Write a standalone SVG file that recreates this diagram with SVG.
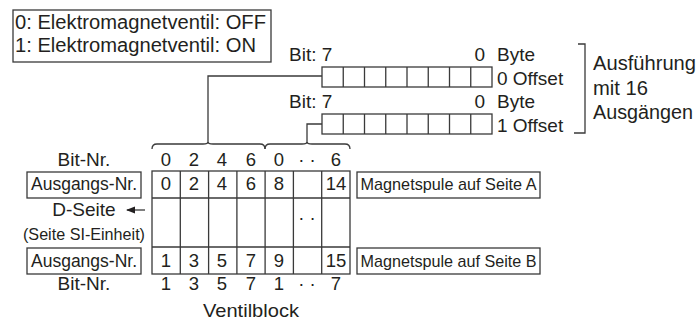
<svg xmlns="http://www.w3.org/2000/svg" width="699" height="323" viewBox="0 0 699 323">
<style>
text{font-family:"Liberation Sans",Arial,sans-serif;fill:#231f20}
.t20{font-size:20px}
.t19{font-size:19px}
.t18{font-size:18.5px}
.t17{font-size:17.5px}
.t16{font-size:16.4px}
.m{text-anchor:middle}
.e{text-anchor:end}
.ln{fill:none;stroke:#3a3a3a;stroke-width:1.3}
.bx{fill:#fff;stroke:#3a3a3a;stroke-width:1.3}
</style>
<defs>
<marker id="ah" markerWidth="9" markerHeight="8" refX="8" refY="4" orient="auto" markerUnits="userSpaceOnUse">
<path d="M9,4 L0,0.5 L0,7.5 Z" fill="#231f20"/>
</marker>
</defs>

<g id="legend">
<rect class="bx" x="13" y="10" width="258" height="52"/>
<text class="t20" x="15" y="29" textLength="251" lengthAdjust="spacingAndGlyphs">0: Elektromagnetventil: OFF</text>
<text class="t20" x="15" y="52" textLength="241" lengthAdjust="spacingAndGlyphs">1: Elektromagnetventil: ON</text>
</g>

<g id="byte0">
<text class="t19" x="289" y="61">Bit: 7</text>
<text class="t19 e" x="485" y="61">0</text>
<text class="t19" x="497" y="61">Byte</text>
<rect class="bx" x="322" y="67" width="170" height="20"/>
<path class="ln" d="M343.25,67V87M364.5,67V87M385.75,67V87M407,67V87M428.25,67V87M449.5,67V87M470.75,67V87"/>
<text class="t19" x="497" y="85">0 Offset</text>
</g>

<g id="byte1">
<text class="t19" x="289" y="108">Bit: 7</text>
<text class="t19 e" x="485" y="108">0</text>
<text class="t19" x="497" y="108">Byte</text>
<rect class="bx" x="322" y="114" width="170" height="20"/>
<path class="ln" d="M343.25,114V134M364.5,114V134M385.75,114V134M407,114V134M428.25,114V134M449.5,114V134M470.75,114V134"/>
<text class="t19" x="497" y="132">1 Offset</text>
</g>

<g id="variant">
<path class="ln" d="M578,44H585V133H574"/>
<text class="t20" x="593" y="70" textLength="103" lengthAdjust="spacingAndGlyphs">Ausführung</text>
<text class="t20" x="593" y="95" textLength="55" lengthAdjust="spacingAndGlyphs">mit 16</text>
<text class="t20" x="593" y="119" textLength="100" lengthAdjust="spacingAndGlyphs">Ausgängen</text>
</g>

<g id="connectors">
<path class="ln" d="M322,76H208V143"/>
<path class="ln" d="M322,124H307V143"/>
<path class="ln" d="M152,149q0,-5 5,-5H203q5,0 5,-2q0,2 5,2H260q5,0 5,5"/>
<path class="ln" d="M265,149q0,-5 5,-5H302q5,0 5,-2q0,2 5,2H345q5,0 5,5"/>
<path class="ln" d="M145,210H127" marker-end="url(#ah)"/>
</g>

<g id="bitnr-top">
<text class="t19 m" x="84" y="166">Bit-Nr.</text>
<text class="t18 m" x="166" y="166">0</text>
<text class="t18 m" x="194" y="166">2</text>
<text class="t18 m" x="222" y="166">4</text>
<text class="t18 m" x="251" y="166">6</text>
<text class="t18 m" x="279" y="166">0</text>
<text class="t18 m" x="307" y="166">· ·</text>
<text class="t18 m" x="336" y="166">6</text>
</g>

<g id="ventilblock">
<rect class="bx" x="152" y="171" width="198" height="103"/>
<path class="ln" d="M152,198H350M152,247H350M180.3,171V274M208.6,171V274M236.9,171V274M265.1,171V274M293.4,171V274M321.7,171V274"/>
<text class="t18 m" x="166" y="190">0</text>
<text class="t18 m" x="194" y="190">2</text>
<text class="t18 m" x="222" y="190">4</text>
<text class="t18 m" x="251" y="190">6</text>
<text class="t18 m" x="279" y="190">8</text>
<text class="t18 m" x="336" y="190">14</text>
<text class="t18 m" x="307" y="224">· ·</text>
<text class="t18 m" x="166" y="267">1</text>
<text class="t18 m" x="194" y="267">3</text>
<text class="t18 m" x="222" y="267">5</text>
<text class="t18 m" x="251" y="267">7</text>
<text class="t18 m" x="279" y="267">9</text>
<text class="t18 m" x="336" y="267">15</text>
<text class="t19 m" x="251" y="317" textLength="96" lengthAdjust="spacingAndGlyphs">Ventilblock</text>
</g>

<g id="ausgang-a">
<rect class="bx" x="27" y="172" width="114" height="26"/>
<text class="t17 m" x="84" y="190" textLength="106" lengthAdjust="spacingAndGlyphs">Ausgangs-Nr.</text>
</g>

<g id="dseite">
<text class="t19 m" x="84" y="216">D-Seite</text>
<text class="t16 m" x="84" y="240" textLength="122" lengthAdjust="spacingAndGlyphs">(Seite SI-Einheit)</text>
</g>

<g id="ausgang-b">
<rect class="bx" x="27" y="248" width="114" height="26"/>
<text class="t17 m" x="84" y="267" textLength="106" lengthAdjust="spacingAndGlyphs">Ausgangs-Nr.</text>
</g>

<g id="bitnr-bottom">
<text class="t19 m" x="84" y="290">Bit-Nr.</text>
<text class="t18 m" x="166" y="290">1</text>
<text class="t18 m" x="194" y="290">3</text>
<text class="t18 m" x="222" y="290">5</text>
<text class="t18 m" x="251" y="290">7</text>
<text class="t18 m" x="279" y="290">1</text>
<text class="t18 m" x="307" y="290">· ·</text>
<text class="t18 m" x="336" y="290">7</text>
</g>

<g id="spule-a">
<rect class="bx" x="357" y="172" width="183" height="26"/>
<text class="t16 m" x="448.5" y="190" textLength="176" lengthAdjust="spacingAndGlyphs">Magnetspule auf Seite A</text>
</g>

<g id="spule-b">
<rect class="bx" x="357" y="248" width="183" height="26"/>
<text class="t16 m" x="448.5" y="267" textLength="176" lengthAdjust="spacingAndGlyphs">Magnetspule auf Seite B</text>
</g>
</svg>
